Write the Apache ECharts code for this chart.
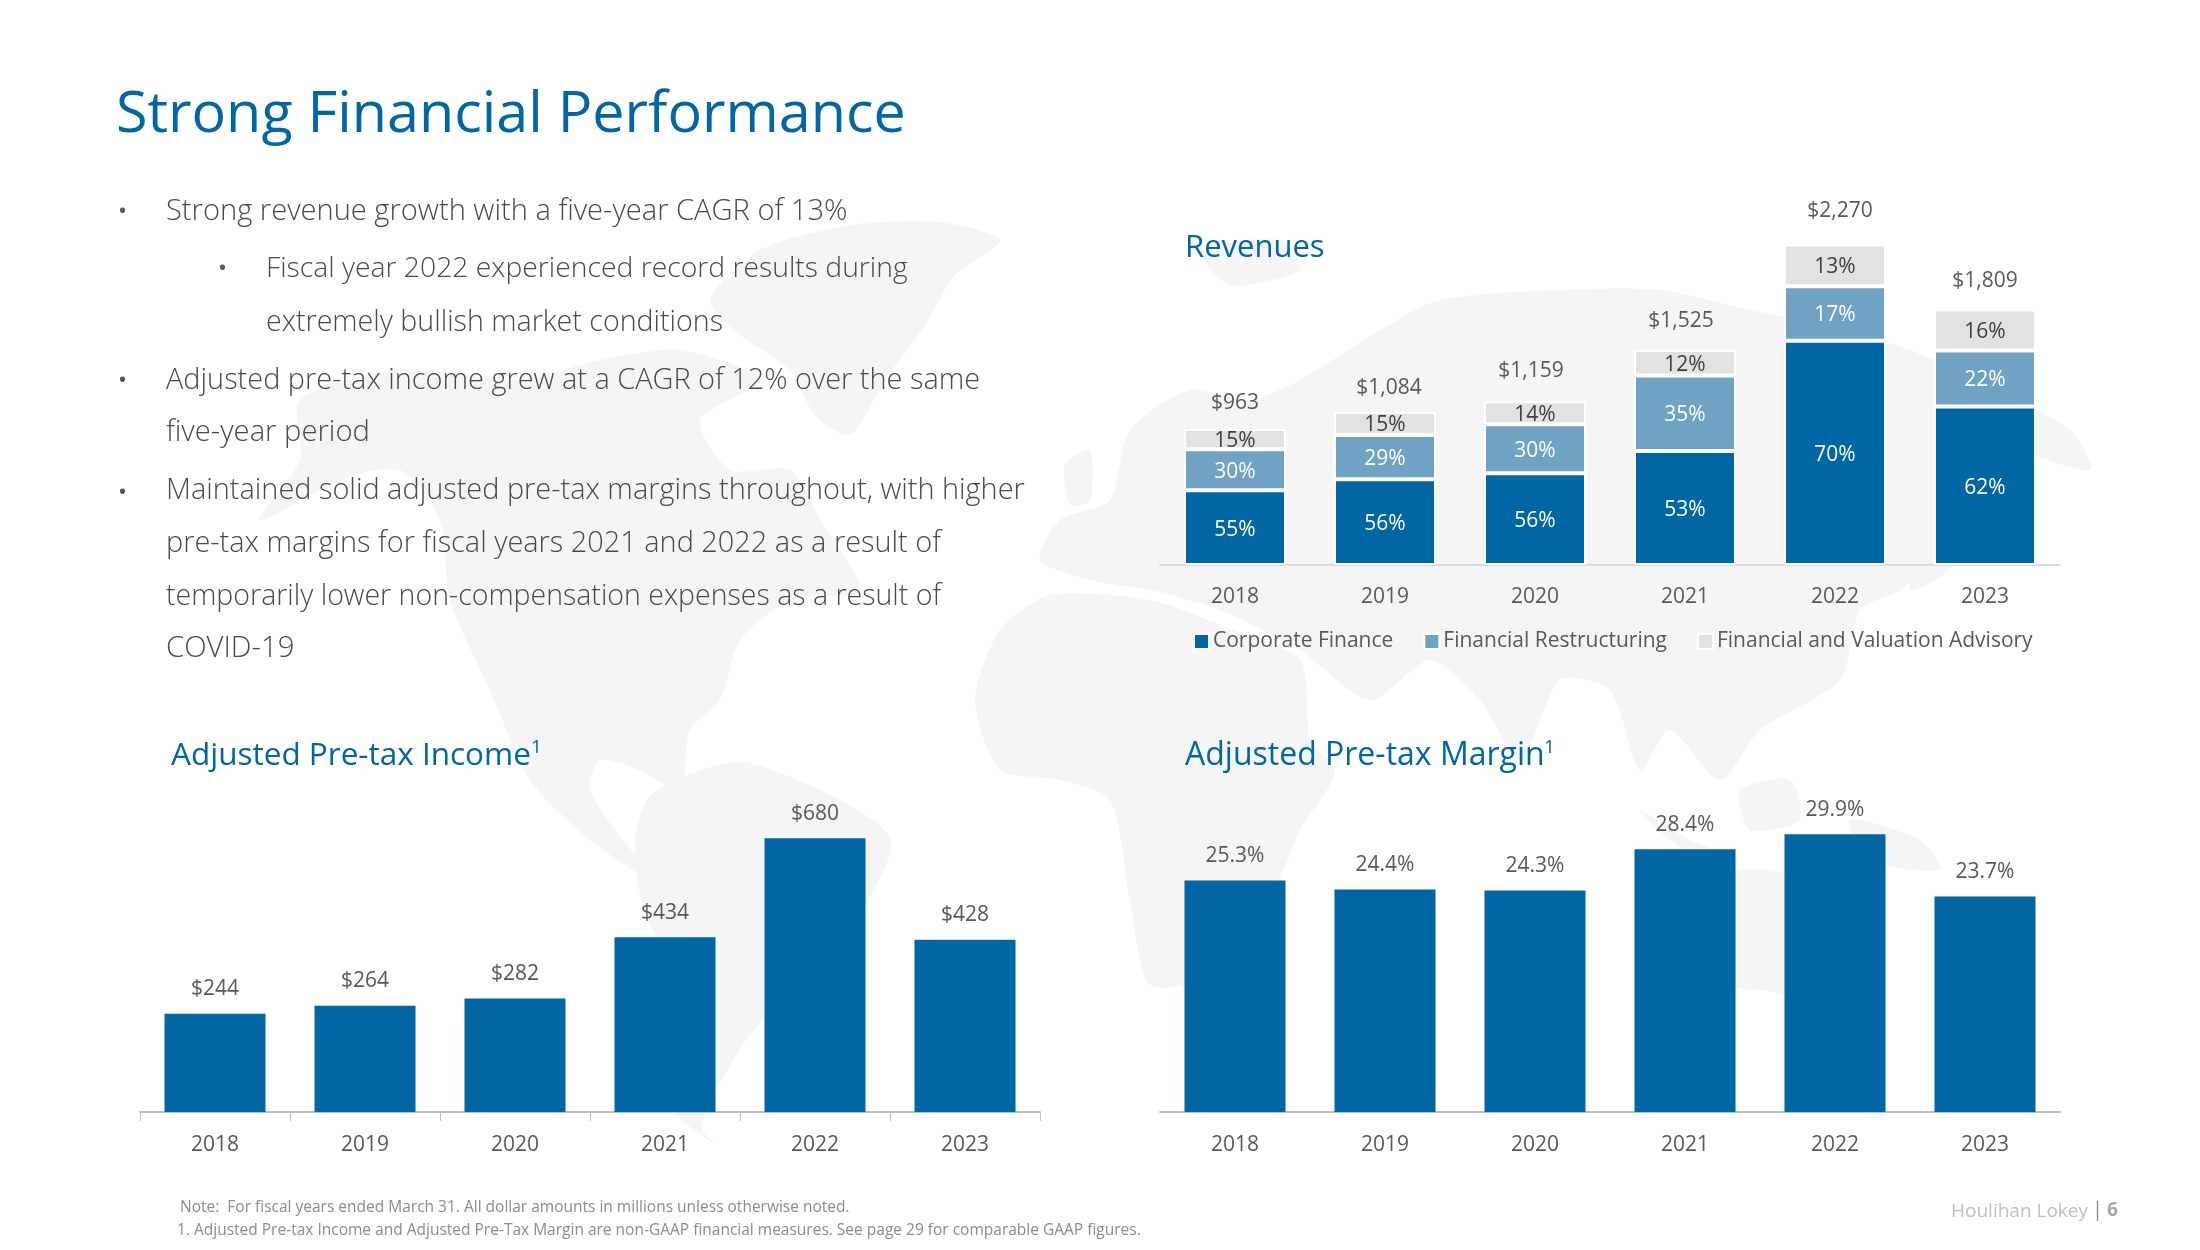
<!DOCTYPE html>
<html>
<head>
<meta charset="utf-8">
<style>html,body{margin:0;padding:0;background:#fff}#c{width:2200px;height:1250px}</style>
<script src="https://cdn.jsdelivr.net/npm/echarts@6/dist/echarts.min.js"></script>
</head>
<body>
<div id="c"></div>
<script>
const years = ['2018','2019','2020','2021','2022','2023'];
const corporateFinance = [530,607,649,808,1589,1122];
const financialRestructuring = [289,314,348,534,386,398];
const valuationAdvisory = [144,163,162,183,295,289];
const revenueTotals = [963,1084,1159,1525,2270,1809];
const corporatePct = [55,56,56,53,70,62];
const restructuringPct = [30,29,30,35,17,22];
const advisoryPct = [15,15,14,12,13,16];
const pretaxIncome = [244,264,282,434,680,428];
const pretaxMargin = [25.3,24.4,24.3,28.4,29.9,23.7];

const totalLabelOffsets = [[0,-10],[4,-8],[-4,-14],[-4,-13],[5,-17],[0,-13]];
const FONT = '"Open Sans"';
const BLUE = '#0066A4', MID = '#70A2C3', LIGHT = '#E2E2E2', TXT = '#595959', BODYC = '#4A4A4A', MAP = '#F5F5F5';

const land = [
 [[710,300],[760,250],[850,225],[940,222],[1000,240],[955,275],[925,325],[885,380],[850,435],[815,415],[790,370],[740,335]],
 [[300,400],[400,370],[520,380],[600,360],[680,350],[760,380],[700,420],[730,470],[790,470],[820,520],[860,590],[790,600],[740,640],[720,700],[690,730],[680,790],[640,770],[600,760],[590,790],[640,860],[680,880],[730,905],[700,900],[650,880],[590,840],[530,780],[490,690],[450,600],[440,520],[400,470],[340,480],[260,520],[300,460]],
 [[652,794],[737,762],[828,794],[891,839],[863,909],[807,973],[744,1043],[701,1126],[716,1145],[673,1107],[688,992],[645,915],[635,839]],
 [[1040,560],[1060,520],[1110,500],[1130,430],[1190,390],[1250,400],[1300,380],[1380,330],[1440,300],[1560,290],[1660,290],[1750,310],[1850,330],[1960,370],[2070,430],[2090,470],[2000,450],[1950,490],[1930,560],[1900,590],[1860,610],[1840,680],[1760,730],[1720,780],[1670,730],[1640,770],[1610,690],[1560,680],[1520,760],[1480,700],[1430,660],[1370,700],[1300,650],[1220,610],[1150,590],[1090,580]],
 [[1300,660],[1310,740],[1335,772],[1300,830],[1270,900],[1210,975],[1150,985],[1130,900],[1110,800],[1060,780],[1000,770],[975,700],[1000,630],[1050,595],[1150,600],[1220,625]],
 [[1640,930],[1690,890],[1740,870],[1790,875],[1850,930],[1880,970],[1840,1000],[1760,990],[1700,985],[1650,990]],
 [[1640,810],[1690,840],[1740,860],[1690,855]],
 [[1740,790],[1790,780],[1800,820],[1750,830]],
 [[1850,820],[1920,840],[1940,870],[1870,860]],
 [[1940,520],[1965,500],[1960,560],[1910,590]],
 [[1245,896],[1262,890],[1255,945],[1238,945]],
 [[1065,465],[1090,450],[1090,500],[1070,505]],
 [[1200,250],[1280,240],[1300,270],[1230,285]]
];

function txt(x,y,text,size,color,extra){
  return {type:'text',x:x,y:y,silent:true,style:Object.assign({text:text,fontFamily:FONT,fontSize:size,fill:color,textVerticalAlign:'middle',verticalAlign:'middle'},extra||{})};
}
const W300 = {fontWeight:300};
const graphics = land.map(p=>({type:'polygon',silent:true,z:-10,shape:{points:p,smooth:0.25},style:{fill:MAP}}));
graphics.push(
  txt(116,116,'Strong Financial Performance',57.5,BLUE),
  txt(118,212,'•',24,TXT), txt(166,212,'Strong revenue growth with a five-year CAGR of 13%',29.1,BODYC,W300),
  txt(218,269,'•',24,TXT), txt(266,269,'Fiscal year 2022 experienced record results during',28.3,BODYC,W300),
  txt(266,323,'extremely bullish market conditions',28.6,BODYC,W300),
  txt(118,381,'•',24,TXT), txt(166,381,'Adjusted pre-tax income grew at a CAGR of 12% over the same',28.9,BODYC,W300),
  txt(166,433,'five-year period',29.2,BODYC,W300),
  txt(118,493,'•',24,TXT), txt(166,491,'Maintained solid adjusted pre-tax margins throughout, with higher',28.9,BODYC,W300),
  txt(166,544,'pre-tax margins for fiscal years 2021 and 2022 as a result of',28.9,BODYC,W300),
  txt(166,597,'temporarily lower non-compensation expenses as a result of',28.5,BODYC,W300),
  txt(166,649,'COVID-19',29.3,BODYC,W300),
  txt(1185,248,'Revenues',31,BLUE),
  txt(171,756,'Adjusted Pre-tax Income',31.5,BLUE),
  txt(531,748,'1',19,BLUE),
  txt(1185,756,'Adjusted Pre-tax Margin',32,BLUE),
  txt(1544,748,'1',19,BLUE),
  txt(180,1208,'Note:  For fiscal years ended March 31. All dollar amounts in millions unless otherwise noted.',15.5,'#8C8C8C'),
  txt(177,1231,'1. Adjusted Pre-tax Income and Adjusted Pre-Tax Margin are non-GAAP financial measures. See page 29 for comparable GAAP figures.',15.5,'#8C8C8C'),
  txt(1951,1212,'Houlihan Lokey',19,'#BFBFBF'),
  txt(2092,1210,'|',20,'#8C8C8C'),
  txt(2107,1211,'6',19,'#A6A6A6',{fontWeight:'bold'})
);

function catAxis(grid,lineColor,ticks,margin){
  return {type:'category',gridIndex:grid,data:years,
    axisLine:{show:true,lineStyle:{color:lineColor,width:2}},
    axisTick:{show:ticks,length:9,lineStyle:{color:'#BFBFBF',width:1}},
    axisLabel:{color:TXT,fontFamily:FONT,fontSize:21,margin:margin}};
}
function valAxis(grid,min,max){
  return {type:'value',gridIndex:grid,min:min,max:max,show:false,splitLine:{show:false}};
}
const segLabel = (pct,color)=>({show:true,position:'inside',offset:[0,2],color:color,fontFamily:FONT,fontSize:21,formatter:p=>pct[p.dataIndex]+'%'});
function seg(name,values,color,pct,labelColor){
  return {name:name,type:'bar',stack:'rev',xAxisIndex:0,yAxisIndex:0,data:values,barWidth:102,
    itemStyle:{color:color,borderColor:'#fff',borderWidth:2},label:segLabel(pct,labelColor),silent:true};
}
function plainBars(x,values,fmt){
  return {type:'bar',xAxisIndex:x,yAxisIndex:x,data:values,barWidth:101,itemStyle:{color:BLUE},silent:true,
    label:{show:true,position:'top',distance:14,color:TXT,fontFamily:FONT,fontSize:21,formatter:fmt}};
}

const chart = echarts.init(document.getElementById('c'),null,{renderer:'canvas'});
chart.setOption({
  animation:false,
  backgroundColor:'#fff',
  graphic:{elements:graphics},
  legend:{data:['Corporate Finance','Financial Restructuring','Financial and Valuation Advisory'],
    left:1188,top:626,icon:'rect',itemWidth:15,itemHeight:15,itemGap:30,selectedMode:false,
    textStyle:{color:TXT,fontFamily:FONT,fontSize:21,padding:[0,0,0,-1]}},
  grid:[
    {left:1160,width:900,top:212,height:353},
    {left:140,width:900,top:790,height:322},
    {left:1160,width:900,top:813,height:299}
  ],
  xAxis:[catAxis(0,'#D9D9D9',false,22),catAxis(1,'#BFBFBF',true,23),catAxis(2,'#BFBFBF',false,23)],
  yAxis:[valAxis(0,0,2500),valAxis(1,0,800),valAxis(2,2.3,32)],
  series:[
    seg('Corporate Finance',corporateFinance,BLUE,corporatePct,'#fff'),
    seg('Financial Restructuring',financialRestructuring,MID,restructuringPct,'#fff'),
    seg('Financial and Valuation Advisory',valuationAdvisory,LIGHT,advisoryPct,'#404040'),
    {type:'line',xAxisIndex:0,yAxisIndex:0,silent:true,symbol:'circle',symbolSize:1,z:5,
     lineStyle:{color:'rgba(0,0,0,0)',width:0},itemStyle:{color:'rgba(0,0,0,0)'},
     data:revenueTotals.map((v,i)=>({value:v,label:{offset:totalLabelOffsets[i]}})),
     label:{show:true,position:'top',distance:5,color:TXT,fontFamily:FONT,fontSize:21,
       formatter:p=>'$'+p.value.toLocaleString('en-US')}},
    plainBars(1,pretaxIncome,p=>'$'+p.value),
    plainBars(2,pretaxMargin,p=>p.value.toFixed(1)+'%')
  ]
});
</script>
</body>
</html>
